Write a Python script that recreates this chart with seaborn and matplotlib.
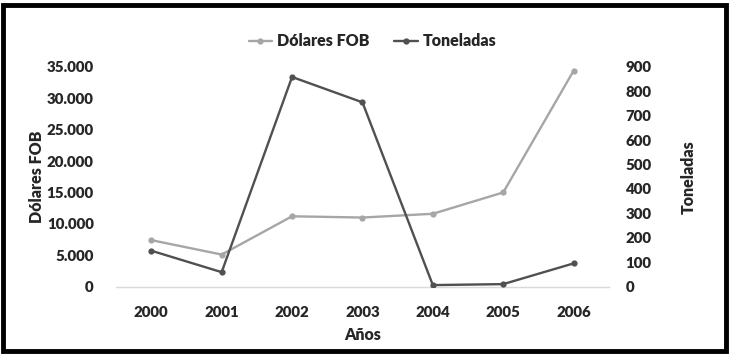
import matplotlib
matplotlib.use("Agg")
from matplotlib import pyplot as plt
from matplotlib.patches import Rectangle
from matplotlib.lines import Line2D
import matplotlib.ticker as mticker
import numpy as np
import pandas
import seaborn as sns

# Data
years = ["2000", "2001", "2002", "2003", "2004", "2005", "2006"]
dolares_fob = [7400, 5100, 11200, 11000, 11600, 15000, 34400]
toneladas = [147, 59, 859, 755, 6, 10, 95]

dataframe = pandas.DataFrame({"Años": years, "Dólares FOB": dolares_fob, "Toneladas": toneladas})

sns.set_style("white")
plt.rcParams['font.family'] = ['Lato', 'DejaVu Sans']
wt = "heavy"

color_usd = "#A6A6A6"
color_ton = "#505050"
fs = 10.8     # tick labels
fs_lab = 11.5  # axis labels and legend

fig = plt.figure(figsize=(7.3, 3.6), dpi=100)
ax1 = fig.add_axes([0.159, 0.204, 0.675, 0.61])
ax2 = ax1.twinx()

sns.lineplot(data=dataframe, x="Años", y="Dólares FOB", ax=ax1, color=color_usd,
             linewidth=1.7, marker="o", markersize=4.5, markeredgewidth=0, sort=False)
sns.lineplot(data=dataframe, x="Años", y="Toneladas", ax=ax2, color=color_ton,
             linewidth=1.7, marker="o", markersize=4.5, markeredgewidth=0, sort=False)

ax1.set_xlim(-0.5, len(years) - 0.5)
ax1.set_ylim(0, 35000)
ax2.set_ylim(0, 900)
ax1.set_yticks(np.arange(0, 35001, 5000))
ax2.set_yticks(np.arange(0, 901, 100))
ax1.yaxis.set_major_formatter(mticker.FuncFormatter(lambda v, p: f"{int(v):,}".replace(",", ".")))

for ax in (ax1, ax2):
    for s in ax.spines.values():
        s.set_visible(False)
    ax.tick_params(length=0, labelsize=fs)
    for lab in ax.get_xticklabels() + ax.get_yticklabels():
        lab.set_fontweight(wt)
ax1.spines["bottom"].set_visible(True)
ax1.spines["bottom"].set_color("#D9D9D9")
ax1.spines["bottom"].set_linewidth(1)
ax1.tick_params(axis="x", pad=14)
ax1.tick_params(axis="y", pad=16)
ax2.tick_params(axis="y", pad=12)

ax1.set_xlabel("Años", fontsize=fs_lab, fontweight=wt, labelpad=6)
ax1.set_ylabel("Dólares FOB", fontsize=fs_lab, fontweight=wt, va="center")
ax2.set_ylabel("Toneladas", fontsize=fs_lab, fontweight=wt, va="center")
ax1.yaxis.set_label_coords(-0.160, 0.5)
ax2.yaxis.set_label_coords(1.162, 0.5)

handles = [Line2D([], [], color=color_usd, linewidth=1.7, marker="o", markersize=3.5),
           Line2D([], [], color=color_ton, linewidth=1.7, marker="o", markersize=3.5)]
fig.legend(handles, ["Dólares FOB", "Toneladas"], loc="center", bbox_to_anchor=(0.51, 0.885),
           ncol=2, frameon=False, prop={"size": fs_lab, "weight": wt},
           handlelength=1.5, handletextpad=0.3, columnspacing=1.5)

fig.patches.append(Rectangle((0.004, 0.025), 0.99, 0.96, transform=fig.transFigure,
                             fill=False, edgecolor="black", linewidth=3.5))

fig.savefig("out.png", dpi=100)
